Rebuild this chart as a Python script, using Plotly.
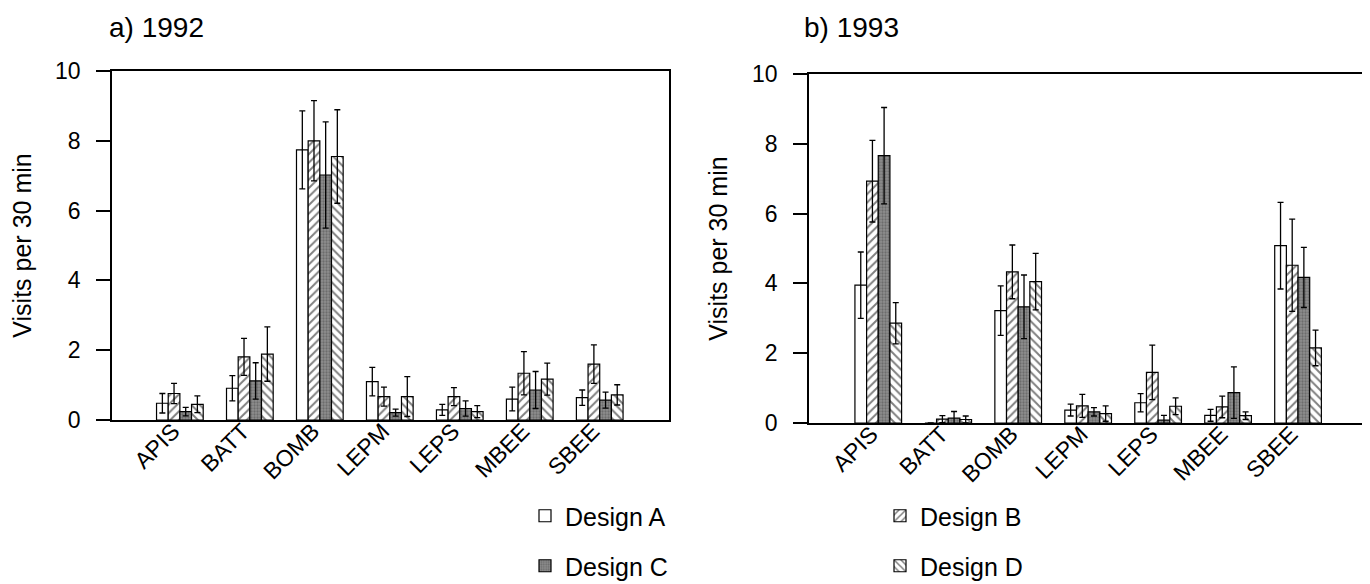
import plotly.graph_objects as go

categories = ["APIS", "BATT", "BOMB", "LEPM", "LEPS", "MBEE", "SBEE"]
designs = ["Design A", "Design B", "Design C", "Design D"]
y_ticks = [0, 2, 4, 6, 8, 10]

# 1992 means and error values (visits per 30 min)
a1992_mean = [0.48, 0.91, 7.74, 1.10, 0.29, 0.60, 0.64]
a1992_err = [0.28, 0.36, 1.12, 0.41, 0.16, 0.34, 0.22]
b1992_mean = [0.76, 1.81, 8.00, 0.67, 0.67, 1.34, 1.60]
b1992_err = [0.29, 0.53, 1.15, 0.27, 0.26, 0.62, 0.55]
c1992_mean = [0.24, 1.12, 7.02, 0.21, 0.33, 0.86, 0.57]
c1992_err = [0.12, 0.52, 1.52, 0.10, 0.22, 0.53, 0.23]
d1992_mean = [0.45, 1.89, 7.55, 0.67, 0.24, 1.17, 0.72]
d1992_err = [0.24, 0.78, 1.34, 0.57, 0.17, 0.46, 0.29]

# 1993 means and error values
a1993_mean = [3.95, 0.0, 3.22, 0.37, 0.58, 0.22, 5.08]
a1993_err = [0.95, None, 0.71, 0.17, 0.26, 0.17, 1.24]
b1993_mean = [6.93, 0.11, 4.33, 0.49, 1.45, 0.46, 4.52]
b1993_err = [1.17, 0.10, 0.77, 0.33, 0.78, 0.31, 1.32]
c1993_mean = [7.66, 0.14, 3.33, 0.32, 0.08, 0.87, 4.17]
c1993_err = [1.38, 0.19, 0.91, 0.12, 0.14, 0.74, 0.86]
d1993_mean = [2.86, 0.10, 4.05, 0.27, 0.48, 0.21, 2.15]
d1993_err = [0.59, 0.10, 0.81, 0.22, 0.24, 0.11, 0.51]

data_1992 = [(a1992_mean, a1992_err), (b1992_mean, b1992_err),
             (c1992_mean, c1992_err), (d1992_mean, d1992_err)]
data_1993 = [(a1993_mean, a1993_err), (b1993_mean, b1993_err),
             (c1993_mean, c1993_err), (d1993_mean, d1993_err)]

FONT = "Liberation Sans, Arial, sans-serif"
# page body has an 8px margin; figure fills the rest of the 1370x584 window
OFF = 8
W, H = 1370 - OFF, 584 - OFF

patterns = [
    dict(shape="", fillmode="overlay"),
    dict(shape="/", fillmode="overlay", bgcolor="white", fgcolor="black", size=6, solidity=0.32),
    dict(shape=".", fillmode="overlay", bgcolor="#8f8f8f", fgcolor="#4a4a4a", size=3, solidity=0.45),
    dict(shape="\\", fillmode="overlay", bgcolor="white", fgcolor="black", size=6, solidity=0.32),
]
colors = ["white", "white", "#8f8f8f", "white"]
legend_ids = ["legend", "legend2", "legend3", "legend4"]

fig = go.Figure()
for (xa, ya, dataset, show) in [("x", "y", data_1992, True), ("x2", "y2", data_1993, False)]:
    for i, (mean, err) in enumerate(dataset):
        fig.add_trace(go.Bar(
            x=categories, y=mean, name=designs[i],
            xaxis=xa, yaxis=ya,
            marker=dict(color=colors[i], pattern=patterns[i],
                        line=dict(color="black", width=1.2)),
            error_y=dict(type="data", array=err, symmetric=True,
                         color="black", thickness=1.3, width=3),
            showlegend=show, legend=legend_ids[i],
        ))

def px_x(p):
    return (p - OFF) / W

def px_y(p):
    return 1 - (p - OFF) / H

axis_common = dict(showline=True, linecolor="black", linewidth=1.5, mirror=True,
                   showgrid=False, zeroline=False, automargin=False)
xaxis_common = dict(axis_common, ticks="", tickangle=-45,
                    ticklabelstandoff=-13, ticklabelshift=-7,
                    tickfont=dict(family=FONT, size=23, color="black"))
yaxis_common = dict(axis_common, range=[0, 10], tickvals=y_ticks, ticks="outside",
                    ticklen=14, tickwidth=1.5, tickcolor="black",
                    ticklabelstandoff=11,
                    tickfont=dict(family=FONT, size=23, color="black"),
                    title=dict(text="Visits per 30 min", standoff=17,
                               font=dict(family=FONT, size=25, color="black")))

fig.update_layout(
    template="none",
    width=W, height=H,
    margin=dict(l=0, r=0, t=0, b=0, autoexpand=False),
    paper_bgcolor="white", plot_bgcolor="white",
    barmode="group", bargap=0.333, bargroupgap=0,
    font=dict(family=FONT, color="black"),
    xaxis=dict(xaxis_common, domain=[px_x(112), px_x(669)], range=[-0.97, 6.99], anchor="y"),
    yaxis=dict(yaxis_common, domain=[px_y(420), px_y(71)], anchor="x"),
    xaxis2=dict(xaxis_common, domain=[px_x(809), px_x(1368)], range=[-0.99, 7.0], anchor="y2"),
    yaxis2=dict(yaxis_common, domain=[px_y(423), px_y(74)], anchor="x2"),
    annotations=[
        dict(text="a) 1992", x=px_x(107), y=px_y(27), xref="paper", yref="paper",
             xanchor="left", yanchor="middle", showarrow=False,
             font=dict(family=FONT, size=28, color="black")),
        dict(text="b) 1993", x=px_x(802), y=px_y(27), xref="paper", yref="paper",
             xanchor="left", yanchor="middle", showarrow=False,
             font=dict(family=FONT, size=28, color="black")),
    ],
)

legend_pos = [(525, 516), (880, 516), (525, 566), (880, 566)]
for lid, (lx, ly) in zip(legend_ids, legend_pos):
    fig.update_layout({lid: dict(x=px_x(lx), y=px_y(ly), xanchor="left", yanchor="middle",
                                 bgcolor="rgba(0,0,0,0)", borderwidth=0,
                                 font=dict(family=FONT, size=25, color="black"))})

fig.write_html("out.html")
